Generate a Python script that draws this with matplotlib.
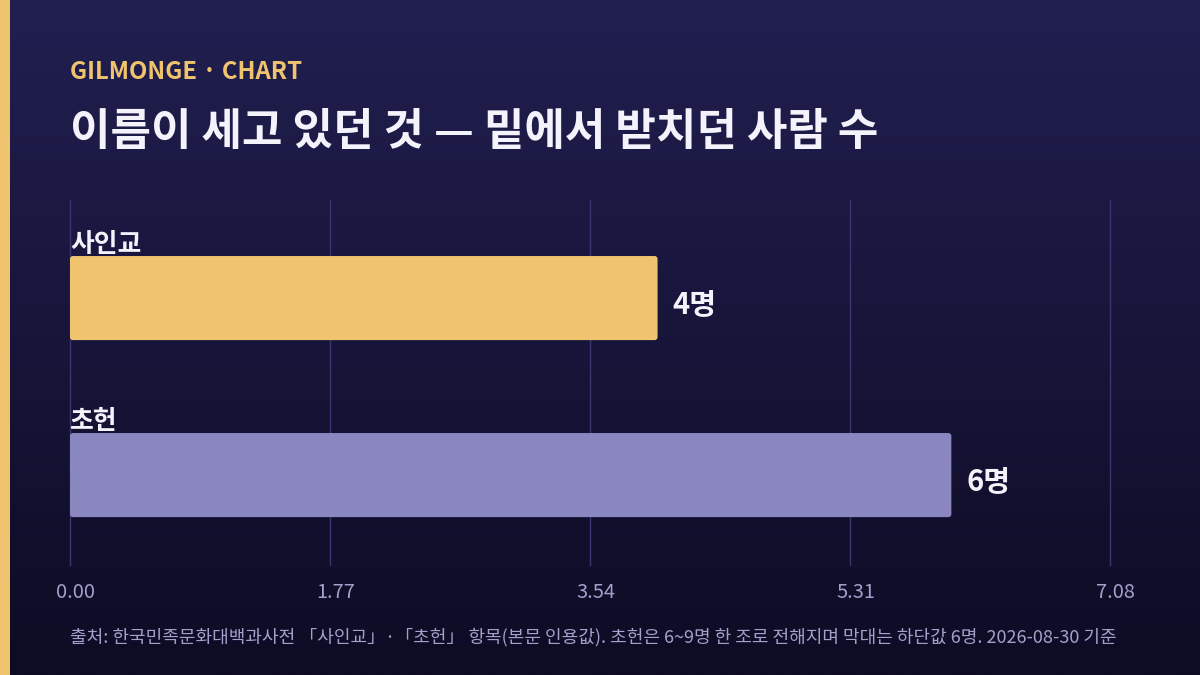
import numpy as np
import matplotlib.pyplot as plt
import matplotlib.transforms as mtransforms
from matplotlib.patches import FancyBboxPatch

plt.rcParams['font.family'] = ['Noto Sans CJK KR', 'DejaVu Sans']

# 데이터
categories = ["사인교", "초헌"]
values = [4, 6]
value_labels = ["4명", "6명"]
bar_colors = ["#f0c46e", "#8a86c0"]

kicker = "GILMONGE · CHART"
title = "이름이 세고 있던 것 — 밑에서 받치던 사람 수"
footer = "출처: 한국민족문화대백과사전 「사인교」·「초헌」 항목(본문 인용값). 초헌은 6~9명 한 조로 전해지며 막대는 하단값 6명. 2026-08-30 기준"

W, H = 1200, 675
fig = plt.figure(figsize=(W / 100, H / 100), dpi=100)

# 배경 그라데이션
bg = fig.add_axes([0, 0, 1, 1], zorder=-10)
top = np.array([0x21, 0x1f, 0x50]) / 255
bot = np.array([0x0e, 0x0b, 0x24]) / 255
t = np.linspace(0, 1, 256)[:, None]
grad = (top[None, :] * (1 - t) + bot[None, :] * t)[:, None, :]
bg.imshow(grad, aspect="auto", extent=[0, 1, 0, 1])
bg.set_xlim(0, 1)
bg.set_ylim(0, 1)
bg.axis("off")
# 왼쪽 띠
bg.add_patch(plt.Rectangle((0, 0), 10 / W, 1, color="#f0c46e", lw=0))

# 텍스트
fig.text(70 / W, 1 - 72 / H, kicker, color="#f0c46e", fontsize=17.2,
         fontweight="bold", va="center", ha="left")
fig.text(70 / W, 1 - 132 / H, title, color="#f4f2fb", fontsize=31.7,
         fontweight="bold", va="center", ha="left")
fig.text(70 / W, 1 - 637 / H, footer, color="#a4a0cc", fontsize=13.0,
         va="center", ha="left")

# 막대 차트
ax = fig.add_axes([70 / W, 1 - 565 / H, 1040 / W, 365 / H])
ax.patch.set_alpha(0)
xmax = max(values) * 1.18
ticks = np.linspace(0, xmax, 5)
y = np.arange(len(categories))
bh = 0.475

bars = ax.barh(y, values, height=bh, color=bar_colors, alpha=0)
for b, c in zip(bars, bar_colors):
    ax.add_patch(FancyBboxPatch((b.get_x(), b.get_y()), b.get_width(), b.get_height(),
                                boxstyle="round,pad=0,rounding_size=0.02",
                                mutation_aspect=0.83, fc=c, ec="none", zorder=3))

for yi, v, lab, cat in zip(y, values, value_labels, categories):
    ax.text(v + 0.1, yi + 0.04, lab, color="#f4f2fb", fontsize=21,
            fontweight="bold", va="center", ha="left", zorder=4)
    ax.text(0, yi - bh / 2 - 0.065, cat, color="#f4f2fb", fontsize=18.6,
            fontweight="bold", va="center", ha="left", zorder=4)

ax.set_xlim(0, xmax)
ax.set_ylim(1.508, -0.554)
ax.set_xticks(ticks)
ax.set_xticklabels([f"{v:.2f}" for v in ticks])
ax.set_yticks([])
ax.tick_params(axis="x", length=0, pad=12, labelcolor="#a4a0cc", labelsize=14.4)
# 눈금 글자가 기준선보다 살짝 오른쪽에 있음
shift = mtransforms.ScaledTranslation(5.5 / 100, 0, fig.dpi_scale_trans)
for lbl in ax.get_xticklabels():
    lbl.set_transform(lbl.get_transform() + shift)
for tk in ticks:
    ax.axvline(tk, color="#3a3672", lw=1, zorder=1, clip_on=False)
for s in ax.spines.values():
    s.set_visible(False)

fig.savefig("out.png", dpi=100)
